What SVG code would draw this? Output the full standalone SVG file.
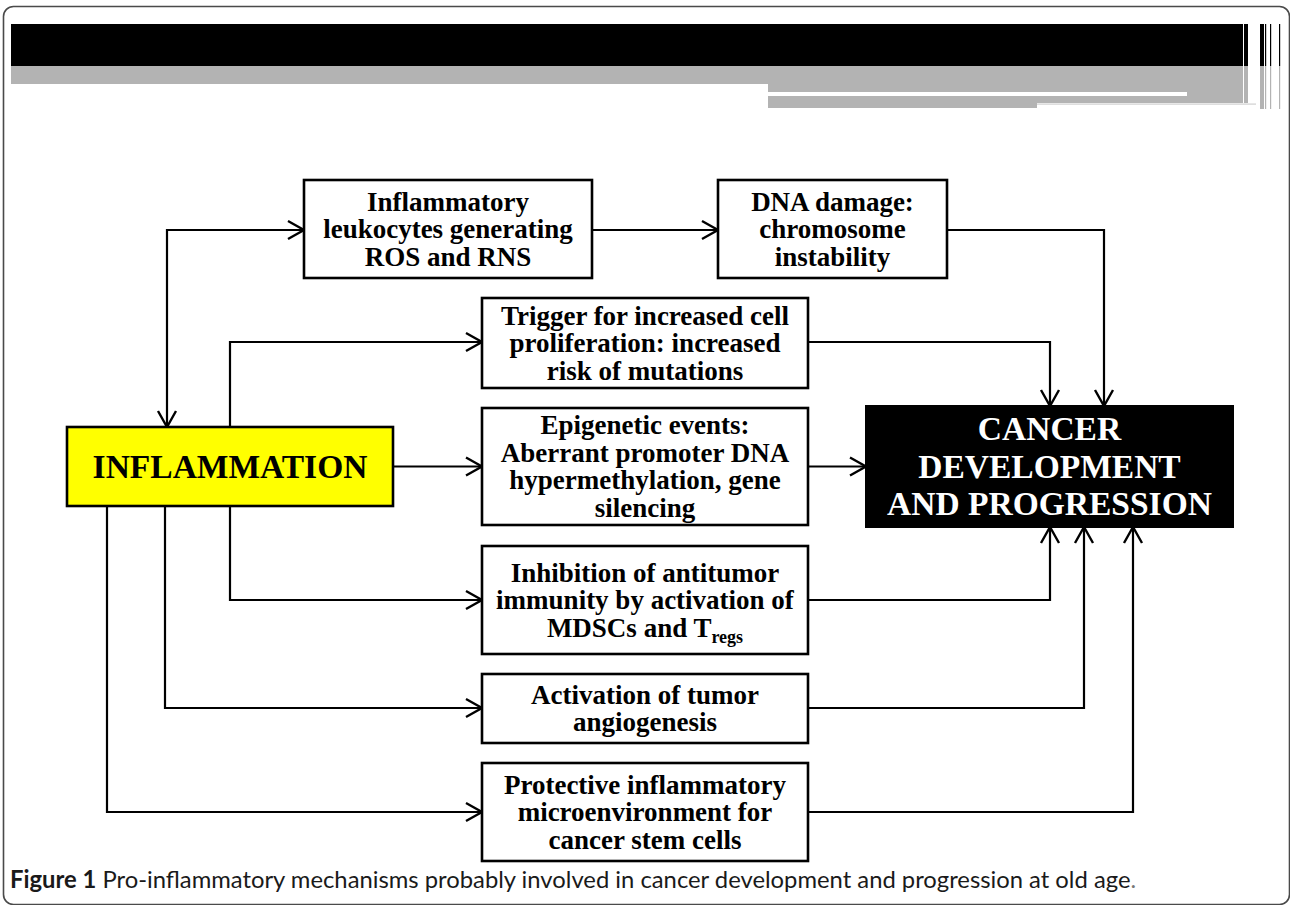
<svg xmlns="http://www.w3.org/2000/svg" width="1290" height="905" viewBox="0 0 1290 905">
<defs>
<style>
.box{fill:#fff;stroke:#000;stroke-width:2.6}
.t{font-family:"Liberation Serif","Times New Roman",serif;font-weight:bold;font-size:27px;text-anchor:middle;fill:#000}
.big{font-family:"Liberation Serif","Times New Roman",serif;font-weight:bold;font-size:33.5px;text-anchor:middle}
.ln{fill:none;stroke:#000;stroke-width:2.2}
.cap{font-family:"Lato","Liberation Sans",sans-serif;font-size:23.8px;fill:#1a1a1a}
</style>
<marker id="ah" markerUnits="userSpaceOnUse" viewBox="-19 -11 21 22" refX="0" refY="0" markerWidth="21" markerHeight="22" orient="auto-start-reverse">
<path d="M-16,-9 L0,0 L-16,9" fill="none" stroke="#000" stroke-width="2.4"/>
</marker>
</defs>
<rect width="1290" height="905" fill="#fff"/>
<g id="frame">
<rect x="3.5" y="6.5" width="1286" height="898" rx="10" fill="none" stroke="#4a4a4a" stroke-width="1.6"/>
</g>
<g id="header">
<rect x="11" y="24" width="1232" height="42" fill="#000"/>
<rect x="11" y="66" width="1232" height="18" fill="#b3b3b3"/>
<rect x="768" y="84" width="475" height="19" fill="#b3b3b3"/>
<rect x="768" y="103" width="269" height="5" fill="#b3b3b3"/>
<rect x="768" y="92" width="419" height="4" fill="#fff"/>
<rect x="1037" y="103.5" width="219" height="1.2" fill="#d0d0d0"/>
<rect x="1244" y="24" width="4" height="42" fill="#000"/>
<rect x="1244" y="66" width="4" height="37" fill="#b3b3b3"/>
<rect x="1260" y="24" width="4" height="42" fill="#000"/>
<rect x="1260" y="66" width="4" height="43" fill="#b3b3b3"/>
<rect x="1265" y="24" width="1.2" height="42" fill="#000"/>
<rect x="1265" y="66" width="1.2" height="43" fill="#b3b3b3"/>
<rect x="1270" y="24" width="1.2" height="42" fill="#000"/>
<rect x="1270" y="66" width="1.2" height="43" fill="#b3b3b3"/>
<rect x="1279" y="24" width="1.2" height="42" fill="#000"/>
<rect x="1279" y="66" width="1.2" height="43" fill="#b3b3b3"/>
</g>
<g id="connectors">
<path class="ln" d="M167,427 V230 H304" marker-start="url(#ah)" marker-end="url(#ah)"/>
<path class="ln" d="M230,427 V342 H482" marker-end="url(#ah)"/>
<path class="ln" d="M592,230 H718" marker-end="url(#ah)"/>
<path class="ln" d="M947,230 H1104 V406" marker-end="url(#ah)"/>
<path class="ln" d="M808,342 H1050 V406" marker-end="url(#ah)"/>
<path class="ln" d="M393,466.5 H482" marker-end="url(#ah)"/>
<path class="ln" d="M808,466.5 H866" marker-end="url(#ah)"/>
<path class="ln" d="M230,506 V600 H482" marker-end="url(#ah)"/>
<path class="ln" d="M165,506 V708 H482" marker-end="url(#ah)"/>
<path class="ln" d="M107,506 V812 H482" marker-end="url(#ah)"/>
<path class="ln" d="M808,600 H1050 V527" marker-end="url(#ah)"/>
<path class="ln" d="M808,708 H1084 V527" marker-end="url(#ah)"/>
<path class="ln" d="M808,812 H1133 V527" marker-end="url(#ah)"/>
</g>
<g id="inflammation">
<rect x="67" y="427" width="326" height="79" fill="#ffff00" stroke="#000" stroke-width="2.6"/>
<text class="big" x="230" y="478" fill="#000">INFLAMMATION</text>
</g>
<g id="leukocytes">
<rect class="box" x="304" y="180" width="288" height="98"/>
<text class="t" x="448" y="210.5">Inflammatory</text>
<text class="t" x="448" y="238">leukocytes generating</text>
<text class="t" x="448" y="265.5">ROS and RNS</text>
</g>
<g id="dna">
<rect class="box" x="718" y="180" width="229" height="98"/>
<text class="t" x="832.5" y="210.5">DNA damage:</text>
<text class="t" x="832.5" y="238">chromosome</text>
<text class="t" x="832.5" y="265.5">instability</text>
</g>
<g id="trigger">
<rect class="box" x="482" y="298" width="326" height="90"/>
<text class="t" x="645" y="324.5">Trigger for increased cell</text>
<text class="t" x="645" y="352">proliferation: increased</text>
<text class="t" x="645" y="379.5">risk of mutations</text>
</g>
<g id="epigenetic">
<rect class="box" x="482" y="408" width="326" height="117"/>
<text class="t" x="645" y="434">Epigenetic events:</text>
<text class="t" x="645" y="461.5">Aberrant promoter DNA</text>
<text class="t" x="645" y="489">hypermethylation, gene</text>
<text class="t" x="645" y="516.5">silencing</text>
</g>
<g id="inhibition">
<rect class="box" x="482" y="546" width="326" height="108"/>
<text class="t" x="645" y="581.5">Inhibition of antitumor</text>
<text class="t" x="645" y="609">immunity by activation of</text>
<text class="t" x="645" y="636.5">MDSCs and T<tspan font-size="18" dy="6">regs</tspan></text>
</g>
<g id="angiogenesis">
<rect class="box" x="482" y="674" width="326" height="69"/>
<text class="t" x="645" y="703.75">Activation of tumor</text>
<text class="t" x="645" y="731.25">angiogenesis</text>
</g>
<g id="protective">
<rect class="box" x="482" y="763" width="326" height="98"/>
<text class="t" x="645" y="793.5">Protective inflammatory</text>
<text class="t" x="645" y="821">microenvironment for</text>
<text class="t" x="645" y="848.5">cancer stem cells</text>
</g>
<g id="cancer">
<rect x="866" y="406" width="367" height="121" fill="#000" stroke="#000" stroke-width="2"/>
<text class="big" x="1049.5" y="440" fill="#fff">CANCER</text>
<text class="big" x="1049.5" y="477.5" fill="#fff">DEVELOPMENT</text>
<text class="big" x="1049.5" y="515" fill="#fff">AND PROGRESSION</text>
</g>
<g id="caption">
<text class="cap" x="10" y="888"><tspan font-weight="bold">Figure 1</tspan> Pro-inflammatory mechanisms probably involved in cancer development and progression at old age<tspan fill="#777">.</tspan></text>
</g>
</svg>
